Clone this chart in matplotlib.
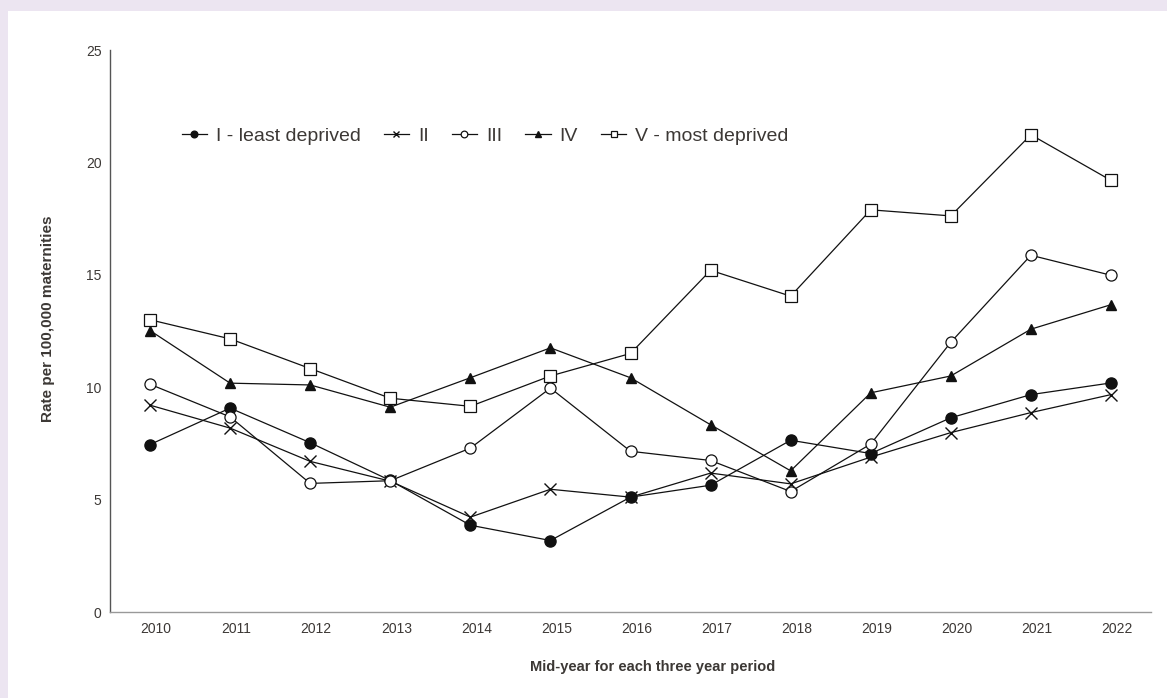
import matplotlib.pyplot as plt
import matplotlib.transforms as mtransforms
from matplotlib.patches import Rectangle

# data
years = ['2010', '2011', '2012', '2013', '2014', '2015', '2016',
         '2017', '2018', '2019', '2020', '2021', '2022']
q1 = [7.45, 9.07, 7.53, 5.85, 3.86, 3.18, 5.11, 5.64, 7.64, 7.05, 8.64, 9.67, 10.19]
q2 = [9.2, 8.18, 6.7, 5.82, 4.22, 5.46, 5.11, 6.18, 5.70, 6.89, 7.98, 8.87, 9.67]
q3 = [10.13, 8.68, 5.72, 5.84, 7.29, 9.96, 7.15, 6.74, 5.36, 7.47, 12.0, 15.87, 14.98]
q4 = [12.52, 10.18, 10.1, 9.11, 10.42, 11.75, 10.42, 8.33, 6.28, 9.75, 10.5, 12.58, 13.67]
q5 = [13.0, 12.15, 10.83, 9.51, 9.15, 10.5, 11.5, 15.2, 14.05, 17.89, 17.62, 21.23, 19.2]
labels = ['I - least deprived', 'II', 'III', 'IV', 'V - most deprived']

txt = '#3c3835'
plt.rcParams['font.family'] = ['Liberation Sans', 'DejaVu Sans']

fig = plt.figure(figsize=(11.67, 6.98), dpi=100, facecolor='#ece5f1')
fig.patches.append(Rectangle((8 / 1167, 0), 1, (698 - 11) / 698,
                             transform=fig.transFigure, facecolor='white',
                             edgecolor='none', zorder=-10))
ax = fig.add_axes([110 / 1167, 86 / 698, 1041 / 1167, 562 / 698])
ax.set_facecolor('none')

x = list(range(len(years)))
kw = dict(color='#111111', lw=0.9)
ax.plot(x, q1, marker='o', ms=8, mfc='#111111', mec='#111111', label=labels[0], **kw)
ax.plot(x, q2, marker='x', ms=8, mew=1.0, mec='#111111', label=labels[1], **kw)
ax.plot(x, q3, marker='o', ms=8, mfc='white', mec='#111111', mew=0.9, label=labels[2], **kw)
ax.plot(x, q4, marker='^', ms=7, mfc='#111111', mec='#111111', label=labels[3], **kw)
ax.plot(x, q5, marker='s', ms=8, mfc='white', mec='#111111', mew=0.9, label=labels[4], **kw)

ax.set_xlim(-0.5, 12.5)
ax.set_ylim(0, 25)
ax.set_xticks(x)
ax.set_xticklabels(years)
ax.set_yticks([0, 5, 10, 15, 20, 25])
ax.tick_params(axis='both', length=0, labelsize=10, colors=txt)
ax.tick_params(axis='y', pad=6)
ax.tick_params(axis='x', pad=7)

# year labels sit a little to the right of the markers in the original
shift = mtransforms.ScaledTranslation(6 / 100, 0, fig.dpi_scale_trans)
for lab in ax.get_xticklabels():
    lab.set_transform(lab.get_transform() + shift)

for s in ['top', 'right']:
    ax.spines[s].set_visible(False)
ax.spines['left'].set_color('#555555')
ax.spines['left'].set_linewidth(1.0)
ax.spines['bottom'].set_color('#999999')
ax.spines['bottom'].set_linewidth(1.0)

fig.text(48 / 1167, 1 - 319 / 698, 'Rate per 100,000 maternities', rotation=90,
         ha='center', va='center', fontsize=11, fontweight='bold', color=txt)
fig.text(653 / 1167, 1 - 667 / 698, 'Mid-year for each three year period',
         ha='center', va='center', fontsize=10.5, fontweight='bold', color=txt)

leg = ax.legend(loc='center left', bbox_to_anchor=(164 / 1167, 1 - 136 / 698),
                bbox_transform=fig.transFigure, ncol=5, frameon=False,
                fontsize=14, handlelength=1.3, handletextpad=0.45,
                columnspacing=1.2, markerscale=0.6, labelcolor=txt)

fig.savefig('out.png', dpi=100, facecolor=fig.get_facecolor())
